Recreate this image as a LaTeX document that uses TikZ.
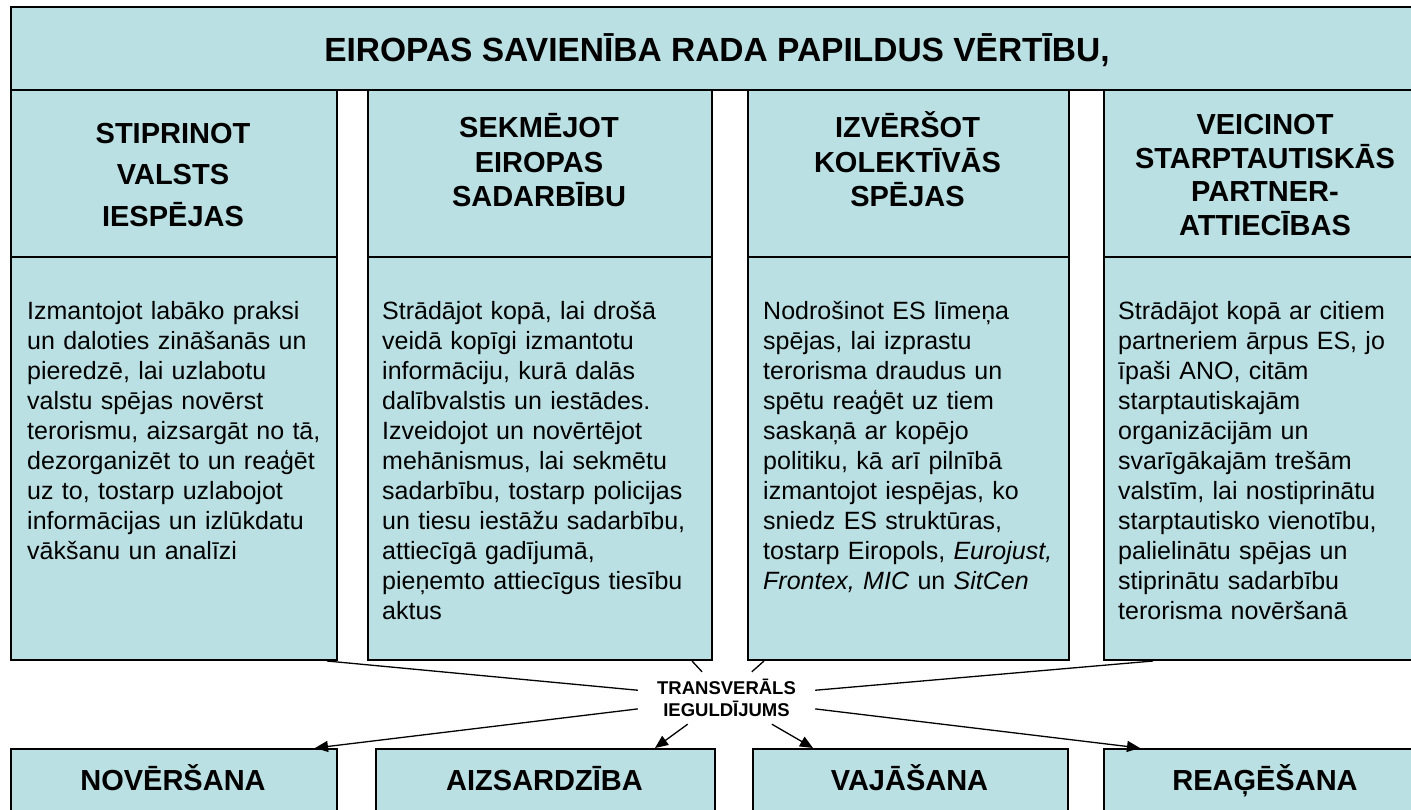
\documentclass[tikz,border=0pt]{standalone}
\usepackage{fontspec}
\setmainfont{Liberation Sans}
\usetikzlibrary{arrows.meta}
\definecolor{panelfill}{RGB}{187,224,227}
\tikzset{
    panel/.style={draw, line width=2pt, fill=panelfill, inner sep=0pt, anchor=north west},
    headtext/.style={font=\fontsize{29}{34.5}\selectfont\bfseries, align=center, text width=310pt, inner sep=0pt, anchor=base},
    bodytext/.style={font=\fontsize{25}{30}\selectfont, align=left, text width=330pt, inner sep=0pt, anchor=base west},
    link/.style={line width=1.3pt},
    feed/.style={line width=1.3pt, -{Triangle[length=13pt,width=11pt]}}
}
\begin{document}
\begin{tikzpicture}[x=1pt, y=-1pt]
        \useasboundingbox (0,0) rectangle (1411,809);
        \clip (0,0) rectangle (1411,809);

        % Banner on top
        \node[panel, minimum width=1414pt, minimum height=83pt] (banner) at (10,6) {};
        \node[font=\fontsize{33.5}{40}\selectfont\bfseries, anchor=base] (title) at (717,61) {EIROPAS SAVIENĪBA RADA PAPILDUS VĒRTĪBU,};

        % Column heads
        \node[panel, minimum width=326pt, minimum height=167pt] (h1) at (10,89) {};
        \node[panel, minimum width=344pt, minimum height=167pt] (h2) at (367,89) {};
        \node[panel, minimum width=321pt, minimum height=167pt] (h3) at (747,89) {};
        \node[panel, minimum width=324pt, minimum height=167pt] (h4) at (1103,89) {};
        \node[headtext, font=\fontsize{29}{41.5}\selectfont\bfseries] at (173,143) {STIPRINOT\\VALSTS\\IESPĒJAS};
        \node[headtext] at (539,137.5) {SEKMĒJOT\\EIROPAS\\SADARBĪBU};
        \node[headtext] at (907.5,137.5) {IZVĒRŠOT\\KOLEKTĪVĀS\\SPĒJAS};
        \node[headtext, font=\fontsize{29}{33.6}\selectfont\bfseries] at (1265,134.5) {VEICINOT\\STARPTAUTISKĀS\\PARTNER-\\ATTIECĪBAS};

        % Column bodies
        \node[panel, minimum width=326pt, minimum height=403pt] (b1) at (10,256) {};
        \node[panel, minimum width=344pt, minimum height=403pt] (b2) at (367,256) {};
        \node[panel, minimum width=321pt, minimum height=403pt] (b3) at (747,256) {};
        \node[panel, minimum width=324pt, minimum height=403pt] (b4) at (1103,256) {};
        \node[bodytext] at (27,319) {Izmantojot labāko praksi\\un daloties zināšanās un\\pieredzē, lai uzlabotu\\valstu spējas novērst\\terorismu, aizsargāt no tā,\\dezorganizēt to un reaģēt\\uz to, tostarp uzlabojot\\informācijas un izlūkdatu\\vākšanu un analīzi};
        \node[bodytext] at (382,319) {Strādājot kopā, lai drošā\\veidā kopīgi izmantotu\\informāciju, kurā dalās\\dalībvalstis un iestādes.\\Izveidojot un novērtējot\\mehānismus, lai sekmētu\\sadarbību, tostarp policijas\\un tiesu iestāžu sadarbību,\\attiecīgā gadījumā,\\pieņemto attiecīgus tiesību\\aktus};
        \node[bodytext] at (763,319) {Nodrošinot ES līmeņa\\spējas, lai izprastu\\terorisma draudus un\\spētu reaģēt uz tiem\\saskaņā ar kopējo\\politiku, kā arī pilnībā\\izmantojot iespējas, ko\\sniedz ES struktūras,\\tostarp Eiropols, \textit{Eurojust,}\\\textit{Frontex, MIC} un \textit{SitCen}};
        \node[bodytext] at (1118,319) {Strādājot kopā ar citiem\\partneriem ārpus ES, jo\\īpaši ANO, citām\\starptautiskajām\\organizācijām un\\svarīgākajām trešām\\valstīm, lai nostiprinātu\\starptautisko vienotību,\\palielinātu spējas un\\stiprinātu sadarbību\\terorisma novēršanā};

        % Result boxes at the bottom
        \node[panel, minimum width=326pt, minimum height=80pt] (r1) at (10,748) {};
        \node[panel, minimum width=339pt, minimum height=80pt] (r2) at (375,748) {};
        \node[panel, minimum width=315pt, minimum height=80pt] (r3) at (752,748) {};
        \node[panel, minimum width=324pt, minimum height=80pt] (r4) at (1103,748) {};
        \node[headtext] at (173,790) {NOVĒRŠANA};
        \node[headtext] at (544.5,790) {AIZSARDZĪBA};
        \node[headtext] at (909.5,790) {VAJĀŠANA};
        \node[headtext] at (1265,790) {REAĢĒŠANA};

        % Transversal hub with its lines and arrows
        \node[font=\fontsize{18.5}{22}\selectfont\bfseries, align=center, inner sep=0pt, minimum width=177pt, minimum height=52pt] (hub) at (726.5,698) {TRANSVERĀLS\\IEGULDĪJUMS};
        \draw[link] ([xshift=-11pt]b1.south east) -- (hub.175);
        \draw[link] ([xshift=-21pt]b2.south east) -- (hub.133);
        \draw[link] ([xshift=17pt]b3.south west) -- (hub.46);
        \draw[link] ([xshift=50pt]b4.south west) -- (hub.5);
        \draw[feed] (hub.187) -- ([xshift=-23pt]r1.north east);
        \draw[feed] (hub.214) -- ([xshift=-61pt]r2.north east);
        \draw[feed] (hub.330) -- ([xshift=61pt]r3.north west);
        \draw[feed] (hub.353) -- ([xshift=37pt]r4.north west);
\end{tikzpicture}
\end{document}
